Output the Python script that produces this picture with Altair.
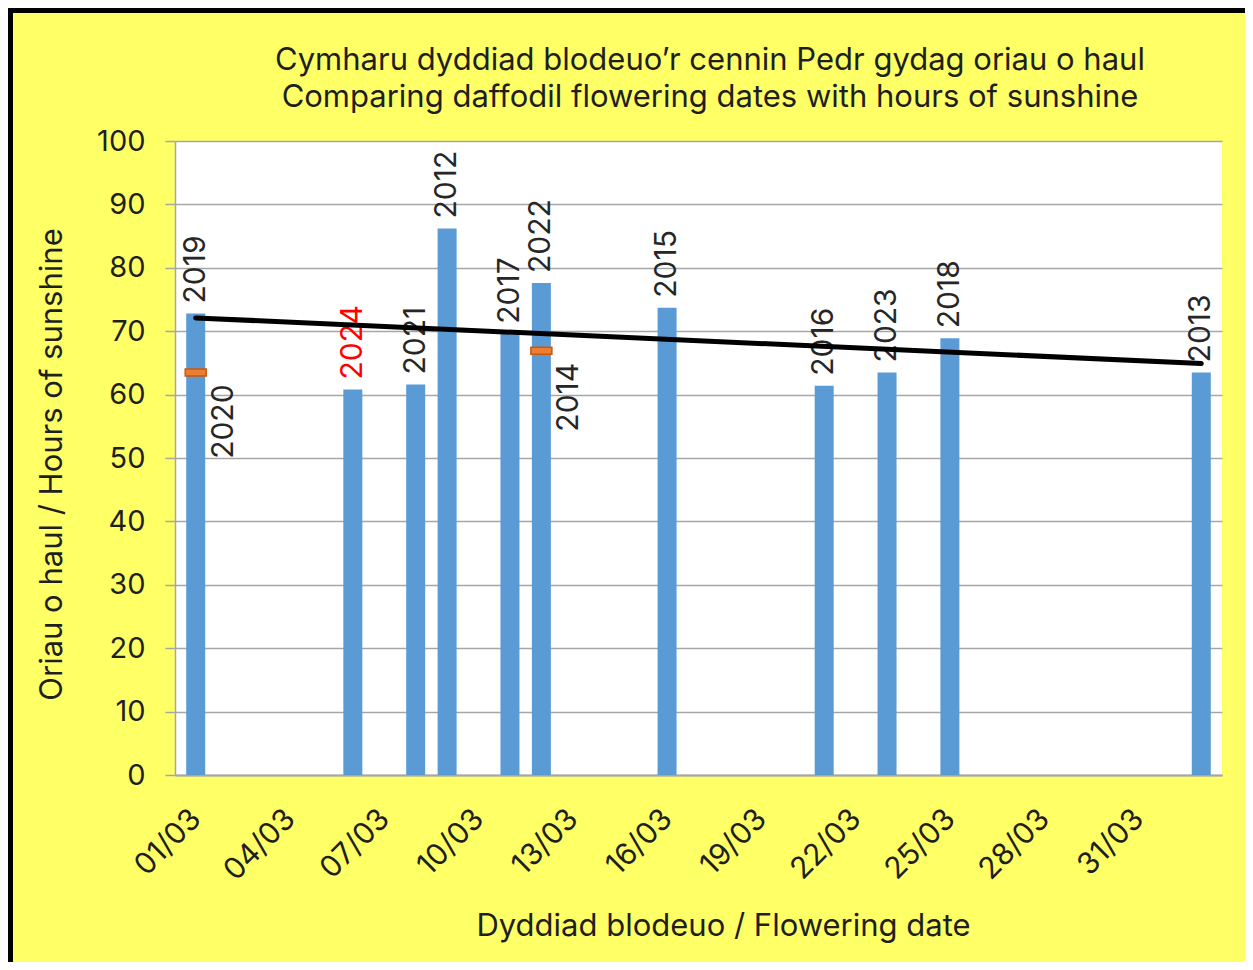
import altair as alt
import pandas as pd

# ---- data ----
bar_days = [(3, 1), (3, 6), (3, 8), (3, 9), (3, 11), (3, 12), (3, 16), (3, 21), (3, 23), (3, 25), (4, 2)]
bar_hours = [72.8, 60.8, 61.6, 86.2, 69.6, 77.6, 73.7, 61.4, 63.5, 68.9, 63.5]
bar_years = ["2019", "2024", "2021", "2012", "2017", "2022", "2015", "2016", "2023", "2018", "2013"]

marker_days = [(3, 1), (3, 12)]
marker_hours = [63.5, 66.9]
marker_years = ["2020", "2014"]

trend_days = [(3, 1), (4, 2)]
trend_hours = [72.1, 64.9]

tick_days = [1, 4, 7, 10, 13, 16, 19, 22, 25, 28, 31]
y_ticks = [0, 10, 20, 30, 40, 50, 60, 70, 80, 90, 100]

title_lines = ["Cymharu dyddiad blodeuo\u2019r cennin Pedr gydag oriau o haul",
               "Comparing daffodil flowering dates with hours of sunshine"]
x_title = "Dyddiad blodeuo / Flowering date"
y_title = "Oriau o haul / Hours of sunshine"

YEAR = 2001
FONT = "Inter"
TXT = "#1f1f1f"
GRID = "#a6a6a6"


def iso(md):
    return f"{YEAR}-{md[0]:02d}-{md[1]:02d}T00:00:00"


bars = pd.DataFrame({"date": [iso(d) for d in bar_days], "hours": bar_hours, "year": bar_years})
markers = pd.DataFrame({"date": [iso(d) for d in marker_days], "hours": marker_hours, "year": marker_years})
trend = pd.DataFrame({"date": [iso(d) for d in trend_days], "hours": trend_hours})

W, H = 1047, 634
PAD = {"left": 167, "top": 133, "right": 23, "bottom": 187}

x_enc = alt.X(
    "date:T",
    scale=alt.Scale(domain=[alt.DateTime(year=YEAR, month=2, date=28, hours=12),
                            alt.DateTime(year=YEAR, month=4, date=2, hours=12)]),
    axis=alt.Axis(
        title=x_title,
        values=[alt.DateTime(year=YEAR, month=3, date=d) for d in tick_days],
        format="%d/%m",
        labelAngle=-45,
        labelAlign="right",
        labelBaseline="middle",
        labelPadding=39,
        ticks=False,
        grid=False,
        domainColor=GRID,
        domainWidth=2,
        labelFont=FONT,
        labelFontSize=30,
        labelColor=TXT,
        titleFont=FONT,
        titleFontSize=31,
        titleFontWeight="normal",
        titleColor=TXT,
        titleX=548,
        titleY=151,
        titleAlign="center",
        titleBaseline="middle",
        labelOverlap=False,
    ),
)

y_enc = alt.Y(
    "hours:Q",
    scale=alt.Scale(domain=[0, 100]),
    axis=alt.Axis(
        title=y_title,
        values=y_ticks,
        tickSize=10,
        tickColor=GRID,
        tickWidth=1.5,
        gridColor=GRID,
        gridWidth=1.5,
        domainColor=GRID,
        domainWidth=1.5,
        labelPadding=20,
        labelFont=FONT,
        labelFontSize=29,
        labelColor=TXT,
        titleFont=FONT,
        titleFontSize=31,
        titleFontWeight="normal",
        titleColor=TXT,
        titleAngle=270,
        titleX=-123,
        titleY=323,
        titleAlign="center",
        titleBaseline="middle",
    ),
)

bar_layer = alt.Chart(bars).mark_bar(size=19, color="#5B9BD5", opacity=1).encode(x=x_enc, y=y_enc)

bar_labels = alt.Chart(bars).mark_text(
    angle=270, align="left", baseline="middle", dx=10,
    font=FONT, fontSize=30,
).encode(
    x="date:T", y="hours:Q", text="year:N",
    color=alt.condition(alt.datum.year == "2024", alt.value("#FF0000"), alt.value("#262626")),
)

marker_layer = alt.Chart(markers).mark_tick(
    orient="horizontal", size=21, thickness=7, color="#ED7D31", opacity=1,
    stroke="#C55A11", strokeWidth=1.5,
).encode(x="date:T", y="hours:Q")

marker_labels = alt.Chart(markers).mark_text(
    angle=270, align="right", baseline="middle", dx=-12, dy=28,
    font=FONT, fontSize=30, color="#262626",
).encode(x="date:T", y="hours:Q", text="year:N")

trend_layer = alt.Chart(trend).mark_line(color="black", strokeWidth=5, strokeCap="round").encode(
    x="date:T", y="hours:Q"
)

one = alt.Data(values=[{"k": 1}])
title_layer = alt.Chart(one).mark_text(
    font=FONT, fontSize=31, color=TXT, align="center", baseline="alphabetic", lineHeight=37,
).encode(x=alt.value(535), y=alt.value(-71), text=alt.value(title_lines))

border_left = alt.Chart(one).mark_rule(color="black", strokeWidth=5).encode(
    x=alt.value(-PAD["left"] + 2.5), y=alt.value(-PAD["top"]), y2=alt.value(H + PAD["bottom"])
)
border_top = alt.Chart(one).mark_rule(color="black", strokeWidth=5).encode(
    x=alt.value(-PAD["left"]), x2=alt.value(W + PAD["right"]), y=alt.value(-PAD["top"] + 2.5)
)

chart = alt.layer(
    bar_layer, bar_labels, marker_layer, marker_labels, trend_layer,
    title_layer, border_left, border_top
).properties(
    width=W,
    height=H,
    autosize=alt.AutoSizeParams(type="none"),
    padding=PAD,
    background="#FFFF66",
).configure_view(fill="white", stroke=None)

chart.save("out.html", embed_options={"renderer": "svg", "actions": False})
